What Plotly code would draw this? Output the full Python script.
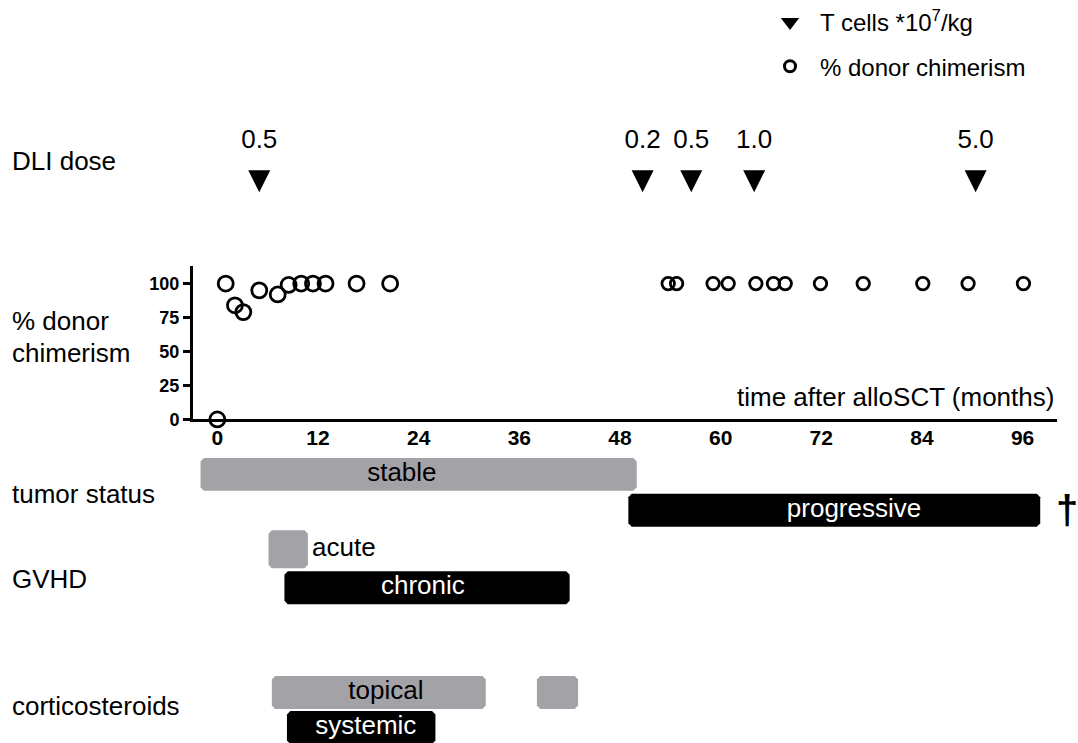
import plotly.graph_objects as go

# ---------------- data ----------------
chim_months = [0, 1.0, 2.1, 3.1, 5.0, 7.2, 8.5, 10.0, 11.4, 12.9, 16.6, 20.6,
               53.75, 54.75, 59.1, 60.9, 64.2, 66.3, 67.7, 71.9, 77.0, 84.1, 89.5, 96.1]
chim_pct = [0, 100, 84, 79, 95, 92, 99, 100, 100, 100, 100, 100,
            100, 100, 100, 100, 100, 100, 100, 100, 100, 100, 100, 100]

dli_months = [5.0, 50.7, 56.5, 64.0, 90.4]
dli_dose = [0.5, 0.2, 0.5, 1.0, 5.0]

tumor_labels = ["stable", "progressive"]
tumor_start = [-2.0, 49.0]
tumor_end = [50.0, 98.1]

gvhd_labels = ["acute", "chronic"]
gvhd_start = [6.1, 8.0]
gvhd_end = [10.8, 42.0]

steroid_labels = ["topical", "topical", "systemic"]
steroid_start = [6.5, 38.1, 8.3]
steroid_end = [32.0, 43.0, 26.0]

x_ticks = [0, 12, 24, 36, 48, 60, 72, 84, 96]
y_ticks = [0, 25, 50, 75, 100]

# ---------------- layout / style constants ----------------
W, H = 1078, 743
FONT = "Liberation Sans, Arial, sans-serif"
GRAY = "#a3a2a7"
BLACK = "#000000"
X_RANGE = [-2.9, 100.1]
X_DOMAIN = [193 / W, 1057 / W]
Y_DOMAIN = [(H - 419) / H, (H - 265) / H]
Y_RANGE = [0, 113.2]

# lanes on the overlay (pixel-like) axis y2: centre, height
LANE = {
    "dli_marker": 191.5, "dli_label": 140.5,
    "stable": (474, 33), "progressive": (510, 33),
    "acute": (549, 38), "chronic": (587.5, 33),
    "topical": (692.5, 33), "systemic": (727.5, 33),
}
BAR_COLOR = {"stable": GRAY, "progressive": BLACK, "acute": GRAY, "chronic": BLACK,
             "topical": GRAY, "systemic": BLACK}
TEXT_COLOR = {"stable": "black", "progressive": "white", "chronic": "white",
              "topical": "black", "systemic": "white"}
# horizontal centre (months) of labels written inside bars; "acute" is written right of its bar
LABEL_X = {"stable": 22.0, "progressive": 75.9, "chronic": 24.5,
           "topical": 20.1, "systemic": 17.7}
ACUTE_LABEL_X = 11.3
CHAMFER_X = 0.4   # months
CHAMFER_Y = 3.5   # px

fig = go.Figure()


def octagon(x0, x1, yc, h):
    top, bot = yc - h / 2, yc + h / 2
    xs = [x0 + CHAMFER_X, x1 - CHAMFER_X, x1, x1, x1 - CHAMFER_X, x0 + CHAMFER_X, x0, x0, x0 + CHAMFER_X]
    ys = [top, top, top + CHAMFER_Y, bot - CHAMFER_Y, bot, bot, bot - CHAMFER_Y, top + CHAMFER_Y, top]
    return xs, ys


def add_bars(labels, starts, ends):
    for lab, s, e in zip(labels, starts, ends):
        yc, h = LANE[lab]
        xs, ys = octagon(s, e, yc, h)
        fig.add_trace(go.Scatter(x=xs, y=ys, mode="lines", fill="toself",
                                 fillcolor=BAR_COLOR[lab], line=dict(width=0),
                                 xaxis="x", yaxis="y2", showlegend=False,
                                 hoverinfo="skip", cliponaxis=False))
    seen = set()
    for lab in labels:
        if lab in seen:
            continue
        seen.add(lab)
        yc, h = LANE[lab]
        if lab == "acute":
            fig.add_trace(go.Scatter(x=[ACUTE_LABEL_X], y=[yc], mode="text", text=[lab],
                                     textposition="middle right",
                                     textfont=dict(family=FONT, size=26, color="black"),
                                     xaxis="x", yaxis="y2", showlegend=False,
                                     hoverinfo="skip", cliponaxis=False))
        else:
            fig.add_trace(go.Scatter(x=[LABEL_X[lab]], y=[yc], mode="text", text=[lab],
                                     textposition="middle center",
                                     textfont=dict(family=FONT, size=26, color=TEXT_COLOR[lab]),
                                     xaxis="x", yaxis="y2", showlegend=False,
                                     hoverinfo="skip", cliponaxis=False))


add_bars(tumor_labels, tumor_start, tumor_end)
add_bars(gvhd_labels, gvhd_start, gvhd_end)
add_bars(steroid_labels, steroid_start, steroid_end)

# DLI doses
fig.add_trace(go.Scatter(x=dli_months, y=[LANE["dli_marker"]] * len(dli_months), mode="markers",
                         marker=dict(symbol="arrow-down", size=22, color="black", opacity=1),
                         xaxis="x", yaxis="y2", showlegend=False, cliponaxis=False))
fig.add_trace(go.Scatter(x=dli_months, y=[LANE["dli_label"]] * len(dli_months), mode="text",
                         text=[f"{d:.1f}" for d in dli_dose], textposition="middle center",
                         textfont=dict(family=FONT, size=26, color="black"),
                         xaxis="x", yaxis="y2", showlegend=False, cliponaxis=False))

# chimerism
sizes = [15 if m < 30 else 12.5 for m in chim_months]
fig.add_trace(go.Scatter(x=chim_months, y=chim_pct, mode="markers",
                         marker=dict(symbol="circle-open", size=sizes, color="black", opacity=1,
                                     line=dict(width=2.8)),
                         xaxis="x", yaxis="y", showlegend=False, cliponaxis=False))

# legend entries
fig.add_trace(go.Scatter(x=[None], y=[None], mode="markers", name="T cells *10<sup>7</sup>/kg",
                         marker=dict(symbol="triangle-down", size=16, color="black"),
                         legendgroup="a", xaxis="x", yaxis="y"))
fig.add_trace(go.Scatter(x=[None], y=[None], mode="markers", name="% donor chimerism",
                         marker=dict(symbol="circle-open", size=11, color="black", line=dict(width=3)),
                         legendgroup="b", xaxis="x", yaxis="y"))

annotations = []


def label(text, px, py, size=26, weight="normal", **kw):
    annotations.append(dict(text=text, x=px / W, y=(H - py) / H, xref="paper", yref="paper",
                            xanchor=kw.get("xanchor", "left"), yanchor="middle", showarrow=False,
                            font=dict(family=FONT, size=size, color="black", weight=weight)))


label("DLI dose", 10, 160)
label("% donor", 10, 320)
label("chimerism", 10, 352.5)
label("tumor status", 10, 494)
label("GVHD", 10, 579)
label("corticosteroids", 10, 706)
label("time after alloSCT (months)", 1056, 397, xanchor="right")
label("†", 1067, 510, size=40, weight="bold", xanchor="center")

fig.update_layout(
    width=W, height=H,
    margin=dict(l=0, r=0, t=0, b=0),
    paper_bgcolor="white", plot_bgcolor="rgba(0,0,0,0)",
    font=dict(family=FONT, color="black"),
    annotations=annotations,
    showlegend=True,
    legend=dict(x=760 / W, y=1 + 1 / H, xanchor="left", yanchor="top",
                font=dict(family=FONT, size=24, color="black"),
                bgcolor="rgba(0,0,0,0)", tracegroupgap=10, itemwidth=50),
    xaxis=dict(domain=X_DOMAIN, range=X_RANGE, anchor="y", showline=True, linewidth=3,
               linecolor="black", showgrid=False, zeroline=False, ticks="",
               tickvals=x_ticks, ticktext=[str(t) for t in x_ticks],
               tickfont=dict(family=FONT, size=21, color="black", weight="bold"),
               ticklabelstandoff=-3, automargin=False, fixedrange=True),
    yaxis=dict(domain=Y_DOMAIN, range=Y_RANGE, anchor="x", showline=True, linewidth=3,
               linecolor="black", showgrid=False, zeroline=False, ticks="outside",
               ticklen=7, tickwidth=3, tickcolor="black", tickvals=y_ticks,
               tickfont=dict(family=FONT, size=18, color="black", weight="bold"),
               automargin=False, fixedrange=True),
    yaxis2=dict(domain=[0, 1], range=[H, 0], anchor="x", visible=False,
                showgrid=False, zeroline=False, fixedrange=True),
)

fig.write_html("out.html", config={"displayModeBar": False},
               post_script="document.body.style.margin='0px';")
